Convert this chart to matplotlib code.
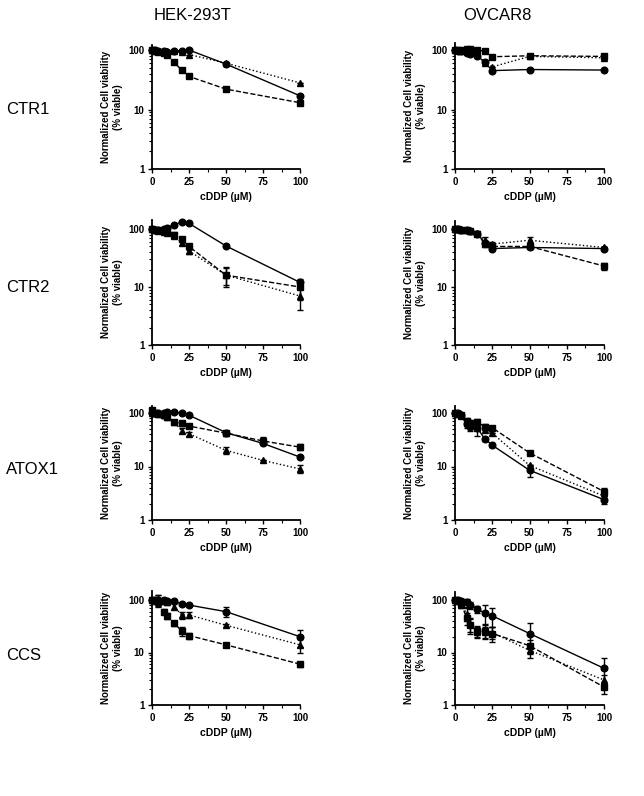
import numpy as np
import matplotlib
matplotlib.use("Agg")
import matplotlib.pyplot as plt
from matplotlib.ticker import FixedLocator, LogLocator, NullFormatter

plt.rcParams['font.family'] = ['Liberation Sans', 'DejaVu Sans']

# doses (uM)
doses = [0, 2, 4, 8, 10, 15, 20, 25, 50, 100]
doses_75 = [0, 2, 4, 8, 10, 15, 20, 25, 50, 75, 100]

# CTR1 - HEK-293T
ctr1_hek_circ = [100, 99, 97, 95, 93, 96, 98, 100, 58, 17]
ctr1_hek_sq = [100, 97, 94, 88, 82, 62, 46, 36, 22, 13]
ctr1_hek_tri = [100, 98, 97, 96, 95, 95, 92, 84, 60, 28]

# CTR1 - OVCAR8
ctr1_ov_circ = [100, 97, 95, 90, 85, 80, 62, 45, 47, 46]
ctr1_ov_sq = [100, 100, 100, 102, 103, 100, 95, 77, 80, 78]
ctr1_ov_tri = [100, 99, 97, 95, 92, 85, 60, 52, 78, 74]

# CTR2 - HEK-293T
ctr2_hek_circ = [100, 95, 95, 100, 105, 118, 132, 125, 51, 12]
ctr2_hek_sq = [100, 98, 95, 92, 88, 80, 66, 50, 16, 10]
ctr2_hek_tri = [100, 97, 93, 88, 85, 75, 58, 42, 16, 7]
ctr2_hek_sq_err = [0, 0, 0, 0, 0, 8, 7, 6, 6, 4]
ctr2_hek_tri_err = [0, 0, 0, 0, 0, 6, 6, 5, 5, 3]

# CTR2 - OVCAR8
ctr2_ov_circ = [100, 100, 97, 95, 92, 83, 58, 46, 48, 46]
ctr2_ov_sq = [100, 100, 97, 95, 92, 83, 55, 50, 50, 23]
ctr2_ov_tri = [100, 100, 97, 95, 92, 85, 65, 55, 64, 48]
ctr2_ov_sq_err = [0, 0, 0, 0, 0, 0, 6, 4, 4, 3]
ctr2_ov_tri_err = [0, 0, 0, 0, 0, 8, 8, 5, 10, 0]

# ATOX1 - HEK-293T
atox1_hek_circ = [100, 98, 100, 102, 105, 103, 100, 91, 43, 27, 15]
atox1_hek_sq = [112, 100, 95, 90, 83, 69, 64, 57, 42, 30, 23]
atox1_hek_tri = [100, 98, 95, 90, 85, 68, 47, 41, 20, 13, 9]
atox1_hek_sq_err = [10, 0, 0, 8, 6, 6, 6, 4, 5, 5, 3]
atox1_hek_tri_err = [0, 0, 0, 0, 0, 6, 5, 4, 3, 0, 1.5]

# ATOX1 - OVCAR8
atox1_ov_circ = [100, 98, 90, 62, 55, 52, 33, 25, 8.5, 2.4]
atox1_ov_sq = [100, 95, 90, 72, 65, 68, 55, 53, 18, 3.4]
atox1_ov_tri = [100, 97, 88, 65, 60, 52, 48, 42, 10.5, 2.8]
atox1_ov_circ_err = [0, 0, 0, 10, 8, 15, 3, 2, 2, 0.4]
atox1_ov_sq_err = [0, 0, 0, 8, 8, 8, 6, 5, 1.5, 0.6]

# CCS - HEK-293T
ccs_hek_circ = [100, 100, 102, 98, 97, 95, 84, 80, 60, 20]
ccs_hek_sq = [100, 95, 90, 60, 50, 36, 26, 21, 14, 6]
ccs_hek_tri = [100, 100, 100, 95, 90, 75, 52, 52, 33, 14]
ccs_hek_circ_err = [0, 0, 25, 0, 0, 0, 0, 0, 13, 7]
ccs_hek_sq_err = [0, 0, 0, 6, 6, 4, 5, 3, 1.5, 0.7]
ccs_hek_tri_err = [0, 0, 25, 12, 10, 8, 8, 7, 2, 4]

# CCS - OVCAR8
ccs_ov_circ = [100, 98, 95, 90, 80, 66, 57, 50, 23, 5]
ccs_ov_sq = [100, 95, 85, 45, 33, 26, 26, 23, 13.5, 2.2]
ccs_ov_tri = [100, 95, 80, 55, 35, 25, 25, 24, 11, 3]
ccs_ov_circ_err = [0, 0, 8, 15, 12, 10, 22, 20, 13, 3]
ccs_ov_sq_err = [0, 0, 10, 12, 10, 6, 8, 7, 4, 0.6]
ccs_ov_tri_err = [0, 0, 10, 15, 10, 6, 6, 6, 3, 0.8]

zero = [0] * len(doses)
zero_75 = [0] * len(doses_75)

panels = [
    # row, col, x, (circ, err), (sq, err), (tri, err), ytop
    (0, 0, doses, (ctr1_hek_circ, zero), (ctr1_hek_sq, zero), (ctr1_hek_tri, zero), 120),
    (0, 1, doses, (ctr1_ov_circ, zero), (ctr1_ov_sq, zero), (ctr1_ov_tri, zero), 130),
    (1, 0, doses, (ctr2_hek_circ, zero), (ctr2_hek_sq, ctr2_hek_sq_err), (ctr2_hek_tri, ctr2_hek_tri_err), 145),
    (1, 1, doses, (ctr2_ov_circ, zero), (ctr2_ov_sq, ctr2_ov_sq_err), (ctr2_ov_tri, ctr2_ov_tri_err), 140),
    (2, 0, doses_75, (atox1_hek_circ, zero_75), (atox1_hek_sq, atox1_hek_sq_err), (atox1_hek_tri, atox1_hek_tri_err), 135),
    (2, 1, doses, (atox1_ov_circ, atox1_ov_circ_err), (atox1_ov_sq, atox1_ov_sq_err), (atox1_ov_tri, zero), 135),
    (3, 0, doses, (ccs_hek_circ, ccs_hek_circ_err), (ccs_hek_sq, ccs_hek_sq_err), (ccs_hek_tri, ccs_hek_tri_err), 150),
    (3, 1, doses, (ccs_ov_circ, ccs_ov_circ_err), (ccs_ov_sq, ccs_ov_sq_err), (ccs_ov_tri, ccs_ov_tri_err), 145),
]

row_labels = ["CTR1", "CTR2", "ATOX1", "CCS"]
col_labels = ["HEK-293T", "OVCAR8"]

W, H = 644, 796
fig = plt.figure(figsize=(W / 100, H / 100), dpi=100)

# pixel positions: (y of "1", y of "100") per row; (x of 0, x of 100) per column
row_px = [(169, 50), (345, 229), (520, 413), (705, 600)]
col_px = [(152, 300), (455, 604)]

styles = [("o", "-"), ("s", "--"), ("^", ":")]

for row, col, x, c, s, t, ytop in panels:
    y1, y100 = row_px[row]
    x0, x100 = col_px[col]
    dec = (y1 - y100) / 2
    h = dec * np.log10(ytop)
    ax = fig.add_axes([x0 / W, (H - y1) / H, (x100 - x0) / W, h / H])
    for (vals, err), (mk, ls) in zip([c, s, t], styles):
        ax.errorbar(x, vals, yerr=err, color="black", marker=mk, ms=4.8,
                    ls=ls, lw=1.0, capsize=2, elinewidth=1.0, capthick=1.0,
                    clip_on=False, zorder=3)
    ax.set_yscale("log")
    ax.set_ylim(1, ytop)
    ax.set_xlim(0, 100)
    ax.xaxis.set_major_locator(FixedLocator([0, 25, 50, 75, 100]))
    ax.xaxis.set_minor_locator(FixedLocator([12.5, 37.5, 62.5, 87.5]))
    ax.yaxis.set_major_locator(FixedLocator([1, 10, 100]))
    ax.yaxis.set_minor_locator(LogLocator(base=10, subs=np.arange(2, 10)))
    ax.yaxis.set_minor_formatter(NullFormatter())
    ax.set_yticklabels(["1", "10", "100"])
    ax.spines[["top", "right"]].set_visible(False)
    ax.spines[["left", "bottom"]].set_linewidth(1.3)
    ax.tick_params(which="major", length=3, width=1.0, labelsize=7, pad=2.5)
    ax.tick_params(which="minor", length=2, width=0.8)
    for lab in ax.get_xticklabels() + ax.get_yticklabels():
        lab.set_fontweight("bold")
    ax.set_xlabel("cDDP (\u00b5M)", fontsize=7.5, fontweight="bold", labelpad=4)
    ax.set_ylabel("Normalized Cell viability\n(% viable)", fontsize=7,
                  fontweight="bold", labelpad=4)

for lab, ypx in zip(row_labels, [110, 287, 470, 655]):
    fig.text(6 / W, 1 - ypx / H, lab, fontsize=12, ha="left", va="center")
for lab, xpx in zip(col_labels, [193, 497]):
    fig.text(xpx / W, 1 - 15 / H, lab, fontsize=12, ha="center", va="center")

fig.savefig("out.png", dpi=100)
plt.close(fig)
